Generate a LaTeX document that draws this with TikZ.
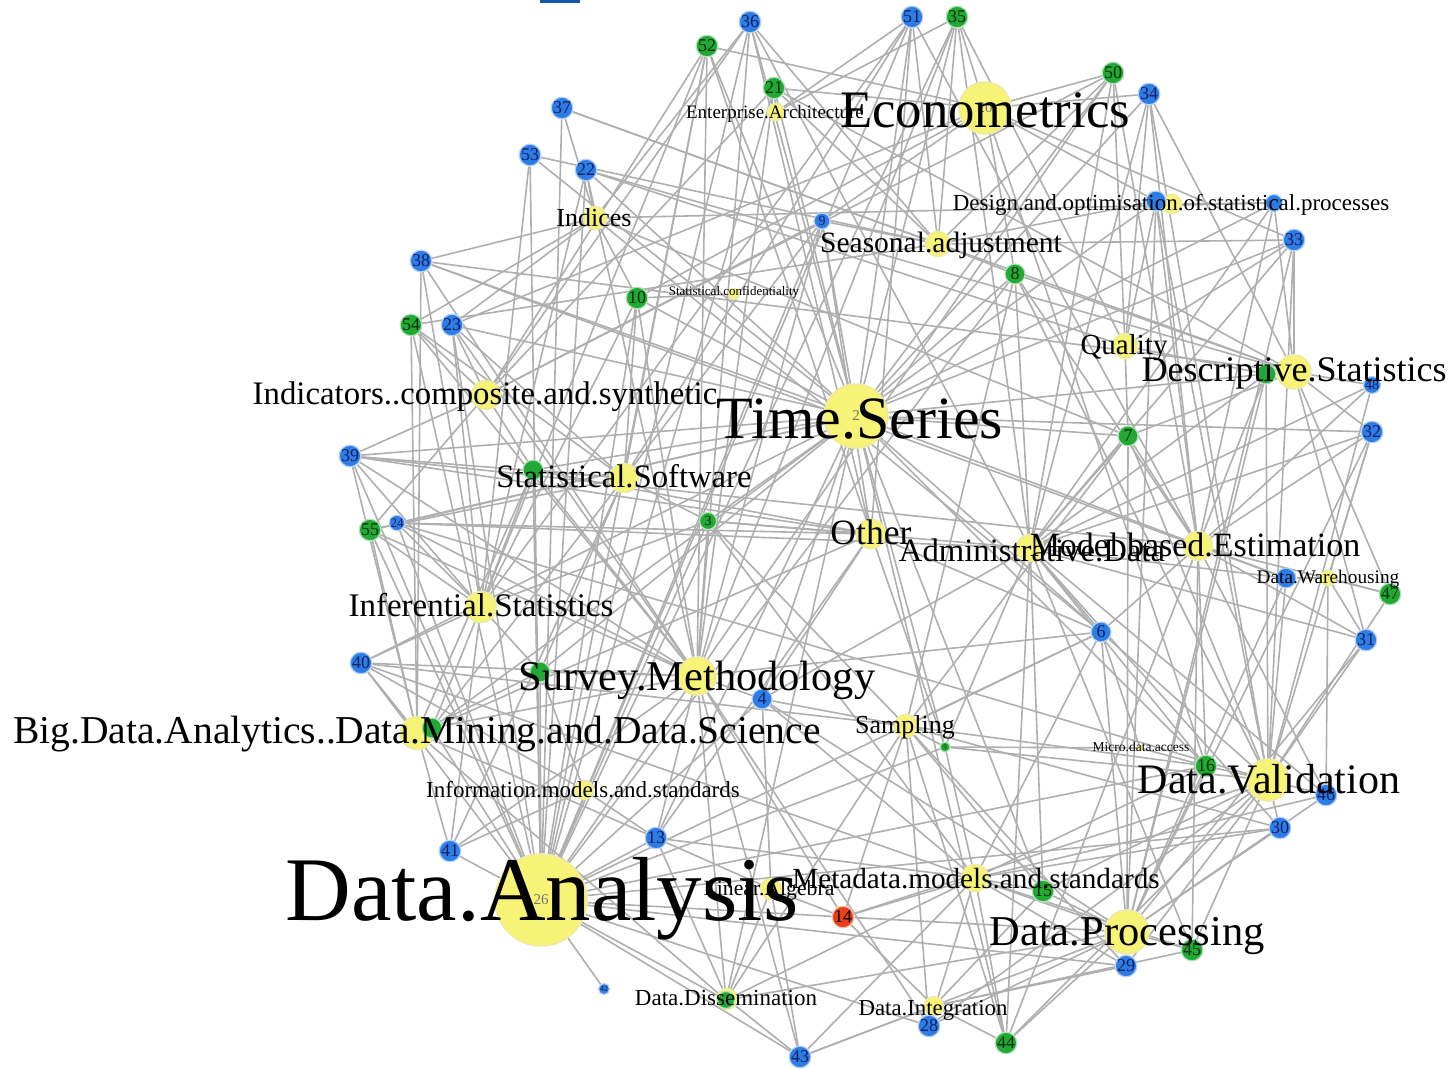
\documentclass[tikz,border=0pt]{standalone}
\usepackage{fontspec}
\setmainfont{Liberation Serif}
\pgfdeclarelayer{bg}
\pgfsetlayers{bg,main}
\definecolor{ey}{RGB}{247,243,118}
\definecolor{eyd}{RGB}{238,234,165}
\definecolor{eb}{RGB}{45,125,228}
\definecolor{egr}{RGB}{34,168,52}
\definecolor{ered}{RGB}{232,64,24}
\definecolor{nb}{RGB}{20,30,100}
\definecolor{ng}{RGB}{8,45,8}
\definecolor{eline}{RGB}{175,175,175}
\definecolor{topblue}{RGB}{25,85,165}
\newcommand\myfs[1]{\fontsize{#1}{#1}\selectfont}
\begin{document}
\begin{tikzpicture}[x=1pt,y=-1pt,
  yn/.style={circle,fill=ey,draw=eyd,line width=1.5pt,inner sep=0pt,text=black!55,font=\myfs{15}},
  bn/.style={circle,fill=eb,draw=eb!35,line width=1.2pt,inner sep=0pt,minimum size=20pt,text=nb,font=\myfs{18}},
  gn/.style={circle,fill=egr,draw=egr!35,line width=1.2pt,inner sep=0pt,minimum size=20pt,text=ng,font=\myfs{18}},
  rn/.style={circle,fill=ered,draw=ered!35,line width=1.2pt,inner sep=0pt,minimum size=20pt,text=black,font=\myfs{18}},
  lab/.style={anchor=base,inner sep=0pt,text=black},
  edge/.style={draw=eline,line width=1.6pt}]
\useasboundingbox (0,0) rectangle (1453,1068);
\fill[topblue] (540,0) rectangle (580,3);

% topic (yellow) nodes
\node[yn,minimum size=17pt] (ENT) at (776,112) {};
\node[yn,minimum size=52pt] (ECO) at (985,108) {20};
\node[yn,minimum size=23pt] (IND) at (595,218) {};
\node[yn,minimum size=25pt] (SEA) at (938,244) {};
\node[yn,minimum size=19pt] (DES) at (1172,204) {};
\node[yn,minimum size=11pt] (CONF) at (734,294) {};
\node[yn,minimum size=29pt] (INDC) at (486,395) {};
\node[yn,minimum size=25pt] (QUA) at (1125,346) {};
\node[yn,minimum size=34pt] (DST) at (1294,372) {};
\node[yn,minimum size=64pt] (TS) at (856,416) {2};
\node[yn,minimum size=29pt] (SSW) at (624,478) {};
\node[yn,minimum size=29pt] (OTH) at (871,534) {};
\node[yn,minimum size=27pt] (ADM) at (1030,548) {};
\node[yn,minimum size=29pt] (MBE) at (1198,546) {};
\node[yn,minimum size=15pt] (DWH) at (1328,578) {};
\node[yn,minimum size=31pt] (INF) at (481,607) {};
\node[yn,minimum size=38pt] (SUR) at (697,676) {};
\node[yn,minimum size=33pt] (BIG) at (417,733) {};
\node[yn,minimum size=23pt] (SAM) at (906,726) {};
\node[yn,minimum size=5pt] (MDA) at (1140,748) {};
\node[yn,minimum size=42pt] (DVAL) at (1268,780) {};
\node[yn,minimum size=19pt] (IMS) at (584,790) {};
\node[yn,minimum size=92pt] (DAN) at (541,900) {26};
\node[yn,minimum size=21pt] (LIN) at (771,889) {};
\node[yn,minimum size=27pt] (MET) at (975,878) {};
\node[yn,minimum size=44pt] (DPR) at (1127,932) {};
\node[yn,minimum size=21pt] (DDIS) at (727,999) {};
\node[yn,minimum size=19pt] (DINT) at (934,1006) {};

% numbered nodes
\node[bn] (n36) at (750,22) {36};
\node[bn] (n51) at (912,17) {51};
\node[gn] (n35) at (957,17) {35};
\node[gn] (n52) at (707,46) {52};
\node[gn] (n21) at (774,88) {21};
\node[gn] (n50) at (1113,73) {50};
\node[bn] (n34) at (1149,94) {34};
\node[bn] (n37) at (562,108) {37};
\node[bn] (n53) at (530,155) {53};
\node[bn] (n22) at (586,170) {22};
\node[bn,minimum size=16pt,font=\myfs{14}] (n9) at (822,221) {9};
\node[bn] (n19) at (1156,201) {};
\node[bn,minimum size=17pt] (n49) at (1274,203) {};
\node[bn] (n33) at (1294,240) {33};
\node[gn] (n8) at (1015,274) {8};
\node[gn] (n10) at (637,298) {10};
\node[bn] (n38) at (421,261) {38};
\node[gn] (n54) at (411,325) {54};
\node[bn] (n23) at (452,325) {23};
\node[gn] (gDS) at (1266,374) {};
\node[bn,minimum size=17pt,font=\myfs{14}] (n48) at (1372,385) {48};
\node[gn] (n7) at (1128,436) {7};
\node[bn] (n32) at (1372,432) {32};
\node[bn] (n39) at (350,456) {39};
\node[gn] (g11) at (533,470) {};
\node[gn,minimum size=17pt,font=\myfs{14}] (n3) at (708,521) {3};
\node[gn] (n55) at (370,530) {55};
\node[bn,minimum size=15pt,font=\myfs{13}] (n24) at (397,523) {24};
\node[bn] (b12) at (1286,578) {};
\node[gn] (n47) at (1390,594) {47};
\node[bn] (n6) at (1101,632) {6};
\node[bn] (n31) at (1366,640) {31};
\node[bn] (n40) at (361,663) {40};
\node[gn] (g17) at (540,672) {};
\node[bn] (n4) at (762,699) {4};
\node[gn] (g1) at (432,728) {};
\node[gn,minimum size=10pt,font=\myfs{7}] (n5) at (945,747) {5};
\node[gn] (n16) at (1206,766) {16};
\node[bn] (n46) at (1326,795) {46};
\node[bn,minimum size=18pt] (n30) at (1280,828) {30};
\node[bn] (n41) at (450,851) {41};
\node[bn] (n13) at (656,838) {13};
\node[rn] (n14) at (843,917) {14};
\node[gn] (n15) at (1043,891) {15};
\node[gn] (n45) at (1192,950) {45};
\node[bn] (n29) at (1126,966) {29};
\node[bn,minimum size=11pt,font=\myfs{8}] (n42) at (604,989) {42};
\node[gn,minimum size=17pt] (g27) at (726,1000) {};
\node[bn] (n28) at (929,1026) {28};
\node[bn] (n43) at (800,1057) {43};
\node[gn] (n44) at (1006,1043) {44};

% connectors
\begin{pgfonlayer}{bg}
\foreach \a/\b in {
 n36/IND,n36/INDC,n36/TS,n36/SEA,n36/DAN,n36/OTH,n36/SUR,n36/ADM,
 n51/ENT,n51/TS,n51/SSW,n51/DAN,n51/SEA,n51/INF,n51/OTH,n51/MBE,
 n35/ECO,n35/TS,n35/SEA,n35/SUR,n35/DAN,n35/ENT,n35/ADM,n35/QUA,
 n52/ECO,n52/TS,n52/SSW,n52/OTH,n52/DAN,n52/INDC,n52/SUR,n52/INF,
 n21/ENT,n21/ECO,n21/TS,n21/SEA,n21/DST,n21/SUR,n21/INDC,n21/DAN,
 n50/ECO,n50/TS,n50/SEA,n50/QUA,n50/DAN,n50/INDC,n50/ADM,n50/MBE,
 n34/ECO,n34/DST,n34/QUA,n34/ADM,n34/DVAL,n34/TS,n34/MBE,
 n37/IND,n37/DAN,n37/SEA,n37/DST,
 n53/SEA,n53/DAN,n53/TS,n53/INF,
 n22/IND,n22/DST,n22/QUA,n22/SUR,n22/INF,n22/TS,n22/DAN,
 n9/ECO,n9/SEA,n9/TS,n9/SSW,n9/DAN,n9/INDC,n9/SUR,n9/OTH,
 n19/DES,n19/ECO,n19/TS,n19/DVAL,n19/MBE,n19/DPR,n19/SEA,n19/QUA,
 n49/DES,n49/DST,n49/ADM,n49/TS,n49/IND,n49/MBE,
 n33/SEA,n33/QUA,n33/DST,n33/TS,n33/ADM,n33/DVAL,n33/ECO,n33/DPR,
 n8/SEA,n8/DST,n8/TS,n8/MBE,n8/ECO,n8/DVAL,n8/DAN,n8/ADM,n8/SAM,
 n10/CONF,n10/TS,n10/IND,n10/DAN,n10/SUR,n10/INF,n10/ECO,n10/SSW,
 n38/IND,n38/BIG,n38/DST,n38/SUR,n38/INF,n38/MBE,n38/TS,
 n54/IND,n54/INDC,n54/BIG,n54/DAN,n54/SSW,n54/SEA,n54/SUR,
 n23/IND,n23/TS,n23/INDC,n23/DAN,n23/INF,n23/SUR,n23/ECO,n23/SSW,
 gDS/DST,gDS/QUA,gDS/TS,gDS/ADM,gDS/DVAL,gDS/MBE,gDS/DPR,
 n48/DST,n48/MBE,n48/DVAL,n48/ADM,
 n7/TS,n7/QUA,n7/DST,n7/DPR,n7/MBE,n7/SAM,n7/ADM,n7/DVAL,n7/IND,
 n32/DST,n32/TS,n32/MBE,n32/ADM,n32/DVAL,n32/DWH,n32/DPR,
 n39/INDC,n39/SSW,n39/INF,n39/TS,n39/BIG,n39/SUR,n39/DAN,n39/OTH,n39/MBE,
 g11/SSW,g11/INDC,g11/DAN,g11/TS,g11/INF,g11/OTH,g11/SUR,g11/BIG,
 n3/SSW,n3/TS,n3/OTH,n3/SUR,n3/DAN,n3/ADM,n3/INF,n3/MET,n3/SAM,
 n55/INDC,n55/INF,n55/DAN,n55/SUR,n55/BIG,n55/TS,n55/SSW,
 n24/INF,n24/TS,n24/OTH,n24/SUR,n24/DAN,n24/ADM,n24/DVAL,
 b12/DWH,b12/MBE,b12/ADM,b12/DVAL,b12/TS,b12/DPR,
 n47/DWH,n47/MBE,n47/DVAL,n47/DST,
 n6/ADM,n6/MBE,n6/DVAL,n6/SAM,n6/DPR,n6/TS,n6/DAN,n6/MDA,n6/OTH,n6/MET,n6/SUR,n6/IND,
 n31/DWH,n31/DVAL,n31/DST,n31/MBE,n31/DPR,n31/ADM,
 n40/INF,n40/BIG,n40/SUR,n40/DAN,n40/SAM,n40/TS,n40/IMS,n40/DPR,
 g17/SUR,g17/BIG,g17/DAN,g17/INF,g17/IMS,g17/TS,g17/SSW,
 n4/SUR,n4/SAM,n4/DAN,n4/TS,n4/LIN,n4/MET,n4/OTH,n4/ADM,n4/DPR,
 g1/BIG,g1/DAN,g1/INF,g1/SUR,g1/TS,g1/SSW,g1/OTH,
 n5/SAM,n5/DAN,n5/ADM,n5/OTH,n5/MET,n5/MDA,n5/DVAL,n5/TS,
 n16/DVAL,n16/ADM,n16/MDA,n16/DPR,n16/MBE,n16/TS,n16/ECO,n16/SAM,n16/DAN,n16/MET,
 n46/DVAL,n46/MBE,n46/DWH,n46/DPR,n46/ADM,n46/MET,
 n30/DVAL,n30/DPR,n30/MET,n30/DAN,n30/ADM,n30/SAM,
 n41/DAN,n41/BIG,n41/IMS,n41/INF,n41/SUR,n41/SSW,
 n13/DAN,n13/IMS,n13/SUR,n13/BIG,n13/LIN,n13/DDIS,n13/TS,n13/OTH,n13/MET,
 n14/DAN,n14/MET,n14/LIN,n14/DINT,n14/SAM,n14/SUR,n14/DVAL,n14/DPR,
 n15/MET,n15/DPR,n15/DVAL,n15/ADM,n15/DINT,n15/SAM,n15/TS,
 n45/DPR,n45/DVAL,n45/MET,n45/MBE,n45/ADM,n45/DINT,
 n29/DPR,n29/MET,n29/DINT,n29/DVAL,n29/DAN,n29/SAM,
 n42/DAN,
 g27/DAN,g27/LIN,g27/SUR,g27/MET,g27/BIG,g27/TS,g27/SAM,g27/DPR,
 n28/DINT,n28/MET,n28/DPR,n28/DAN,n28/SAM,n28/SUR,n28/DVAL,
 n43/DDIS,n43/LIN,n43/DAN,n43/MET,n43/DINT,n43/SUR,n43/DPR,
 n44/DINT,n44/DPR,n44/MET,n44/ADM,n44/DVAL,n44/SAM,n44/TS,n44/MBE}
  \draw[edge] (\a) -- (\b);
\end{pgfonlayer}

% topic labels
\node[lab,font=\myfs{19}] (tENT) at (775,118) {Enterprise.Architecture};
\node[lab,font=\myfs{52.7}] (tECO) at (985,127) {Econometrics};
\node[lab,font=\myfs{26}] (tIND) at (594,226) {Indices};
\node[lab,font=\myfs{29.5}] (tSEA) at (941,252) {Seasonal.adjustment};
\node[lab,font=\myfs{23}] (tDES) at (1171,210) {Design.and.optimisation.of.statistical.processes};
\node[lab,font=\myfs{13}] (tCONF) at (734,295) {Statistical.confidentiality};
\node[lab,font=\myfs{32.8}] (tINDC) at (485,404) {Indicators..composite.and.synthetic};
\node[lab,font=\myfs{29}] (tQUA) at (1124,354) {Quality};
\node[lab,font=\myfs{36}] (tDST) at (1294,381) {Descriptive.Statistics};
\node[lab,font=\myfs{60}] (tTS) at (860,438) {Time.Series};
\node[lab,font=\myfs{32.7}] (tSSW) at (624,487) {Statistical.Software};
\node[lab,font=\myfs{35.6}] (tOTH) at (871,544) {Other};
\node[lab,font=\myfs{32.7}] (tADM) at (1032,561) {Administrative.Data};
\node[lab,font=\myfs{34}] (tMBE) at (1195,556) {Model.based.Estimation};
\node[lab,font=\myfs{19.3}] (tDWH) at (1328,583) {Data.Warehousing};
\node[lab,font=\myfs{33}] (tINF) at (481,616) {Inferential.Statistics};
\node[lab,font=\myfs{42.4}] (tSUR) at (697,690) {Survey.Methodology};
\node[lab,font=\myfs{39.5}] (tBIG) at (417,743) {Big.Data.Analytics..Data.Mining.and.Data.Science};
\node[lab,font=\myfs{26}] (tSAM) at (905,733) {Sampling};
\node[lab,font=\myfs{13.5}] (tMDA) at (1141,751) {Micro.data.access};
\node[lab,font=\myfs{42}] (tDVAL) at (1269,793) {Data.Validation};
\node[lab,font=\myfs{23}] (tIMS) at (583,797) {Information.models.and.standards};
\node[lab,font=\myfs{91}] (tDAN) at (542,920) {Data.Analysis};
\node[lab,font=\myfs{21.7}] (tLIN) at (769,895) {Linear.Algebra};
\node[lab,font=\myfs{29.2}] (tMET) at (976,888) {Metadata.models.and.standards};
\node[lab,font=\myfs{42.5}] (tDPR) at (1127,945) {Data.Processing};
\node[lab,font=\myfs{23}] (tDDIS) at (726,1005) {Data.Dissemination};
\node[lab,font=\myfs{22.8}] (tDINT) at (933,1015) {Data.Integration};
\end{tikzpicture}
\end{document}
